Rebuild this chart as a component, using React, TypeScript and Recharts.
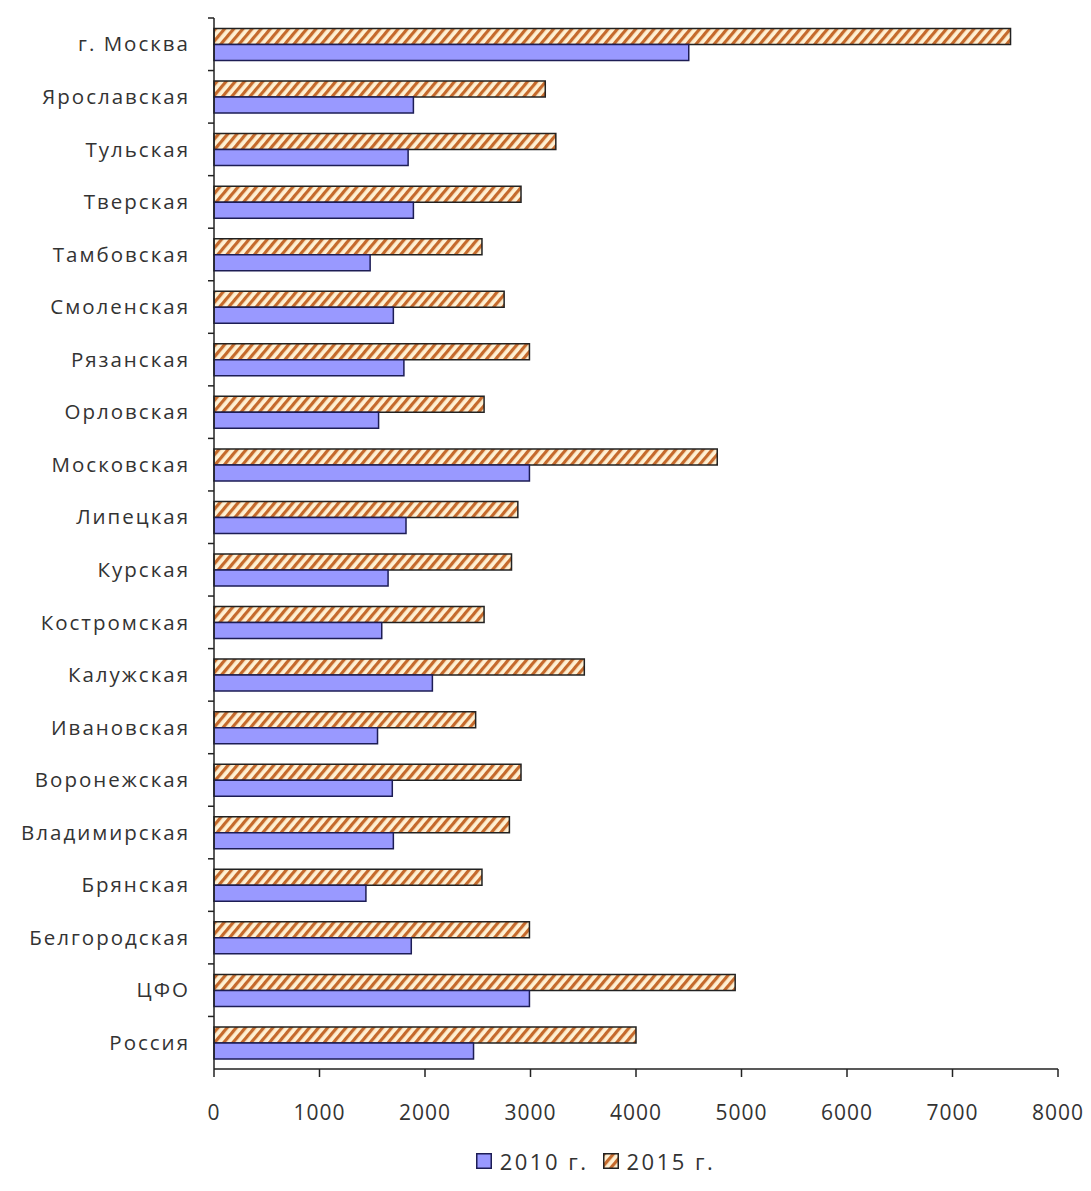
import React from 'react';
import { BarChart, Bar, XAxis, YAxis, Legend } from 'recharts';

const regions = [
  'г. Москва', 'Ярославская', 'Тульская', 'Тверская', 'Тамбовская', 'Смоленская',
  'Рязанская', 'Орловская', 'Московская', 'Липецкая', 'Курская', 'Костромская',
  'Калужская', 'Ивановская', 'Воронежская', 'Владимирская', 'Брянская',
  'Белгородская', 'ЦФО', 'Россия',
];
const values2010 = [
  4500, 1890, 1840, 1890, 1480, 1700, 1800, 1560, 2990, 1820, 1650, 1590,
  2070, 1550, 1690, 1700, 1440, 1870, 2990, 2460,
];
const values2015 = [
  7550, 3140, 3240, 2910, 2540, 2750, 2990, 2560, 4770, 2880, 2820, 2560,
  3510, 2480, 2910, 2800, 2540, 2990, 4940, 4000,
];
const xTicks = [0, 1000, 2000, 3000, 4000, 5000, 6000, 7000, 8000];

const data = regions.map((name, i) => ({ name, y2010: values2010[i], y2015: values2015[i] }));

const FONT = '"Open Sans", sans-serif';
const TEXT = '#333333';
const BLUE = '#9999FF';
const BLUE_EDGE = '#1d1d55';
const STRIPE = '#c56a2c';
const CREAM = '#fff1d4';

const HatchDef = ({ id }: { id: string }) => (
  <pattern id={id} width="7" height="7" patternUnits="userSpaceOnUse" patternTransform="rotate(40)">
    <rect width="7" height="7" fill={CREAM} />
    <rect width="3.2" height="7" fill={STRIPE} />
  </pattern>
);

const YTick = (props: any) => {
  const { x, y, payload } = props;
  const off = payload.offset || 0;
  return (
    <g>
      <text x={x} y={y} dy="0.35em" textAnchor="end" fill={TEXT} fontSize={20.5} letterSpacing={2} fontFamily={FONT}>
        {payload.value}
      </text>
      <line x1={x + 18} x2={x + 24} y1={y - off} y2={y - off} stroke="#222" strokeWidth={1.5} />
    </g>
  );
};

const LegendBox = () => (
  <div style={{ display: 'flex', justifyContent: 'center', paddingLeft: 100, fontFamily: FONT, fontSize: 22, letterSpacing: 2.5, color: TEXT }}>
    <span style={{ display: 'flex', alignItems: 'center', marginRight: 14 }}>
      <svg width="16" height="16" style={{ marginRight: 8 }}>
        <rect x="0.75" y="0.75" width="14.5" height="14.5" fill={BLUE} stroke={BLUE_EDGE} strokeWidth={1.5} />
      </svg>
      2010 г.
    </span>
    <span style={{ display: 'flex', alignItems: 'center' }}>
      <svg width="16" height="16" style={{ marginRight: 8 }}>
        <defs>
          <HatchDef id="hatchLegend" />
        </defs>
        <rect x="0.75" y="0.75" width="14.5" height="14.5" fill="url(#hatchLegend)" stroke="#222" strokeWidth={1.5} />
      </svg>
      2015 г.
    </span>
  </div>
);

export default function App() {
  return (
    <div style={{ margin: -8, background: '#fff', width: 1091, height: 1191 }}>
      <BarChart
        width={1091}
        height={1191}
        data={data}
        layout="vertical"
        margin={{ top: 18, right: 33, bottom: 5, left: 0 }}
        barCategoryGap="20%"
        barGap={0}
      >
        <defs>
          <HatchDef id="hatch" />
        </defs>
        <XAxis
          type="number"
          domain={[0, 8000]}
          ticks={xTicks}
          interval={0}
          height={77}
          tickSize={8}
          tickMargin={28}
          axisLine={{ stroke: '#222', strokeWidth: 1.5 }}
          tickLine={{ stroke: '#222', strokeWidth: 1.5 }}
          tick={{ fill: TEXT, fontSize: 21, letterSpacing: 1, fontFamily: FONT }}
        />
        <YAxis
          type="category"
          dataKey="name"
          width={214}
          interval={0}
          tickLine={false}
          tickSize={6}
          tickMargin={18}
          axisLine={{ stroke: '#222', strokeWidth: 1.5 }}
          tick={<YTick />}
        />
        <Legend verticalAlign="bottom" height={40} content={<LegendBox />} wrapperStyle={{ left: 0, width: 1091 }} />
        <Bar dataKey="y2015" name="2015 г." fill="url(#hatch)" stroke="#222" strokeWidth={1.5} isAnimationActive={false} />
        <Bar dataKey="y2010" name="2010 г." fill={BLUE} stroke={BLUE_EDGE} strokeWidth={1.5} isAnimationActive={false} />
      </BarChart>
    </div>
  );
}
